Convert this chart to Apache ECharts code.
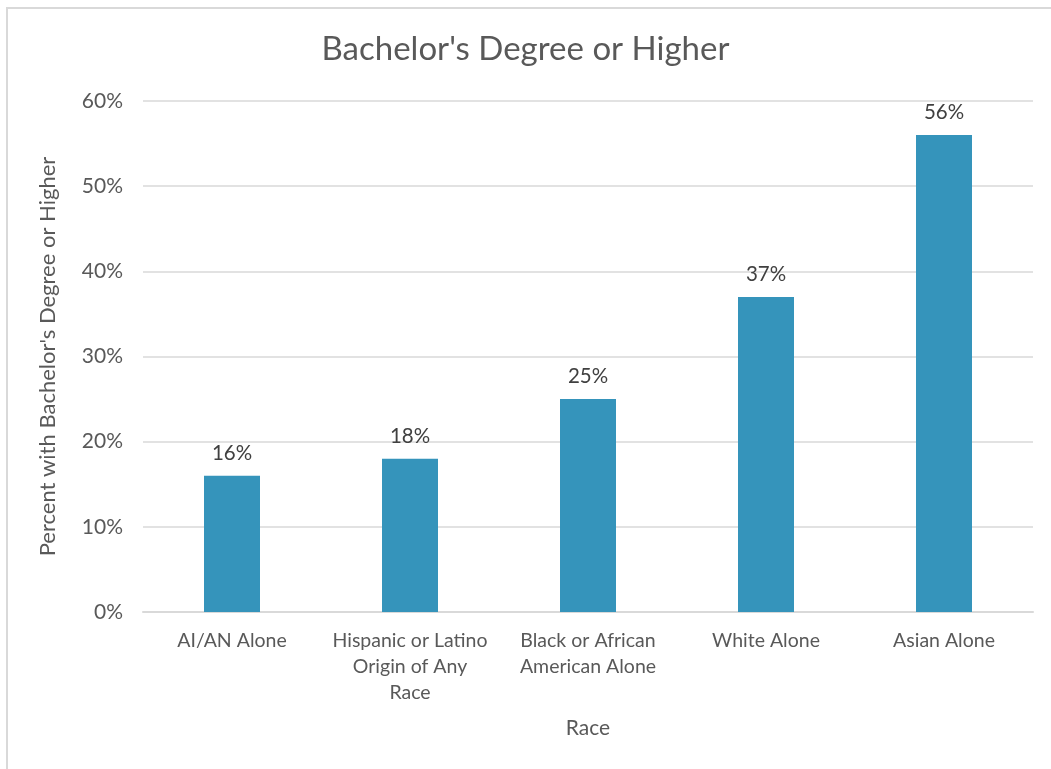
<!DOCTYPE html>
<html>
<head>
<meta charset="utf-8">
<script src="https://cdn.jsdelivr.net/npm/echarts@6/dist/echarts.min.js"></script>
<style>
  html, body { margin: 0; padding: 0; background: #fff; }
  #main { width: 1051px; height: 769px; }
</style>
</head>
<body>
<div id="main"></div>
<script>
const categories = ['AI/AN Alone', 'Hispanic or Latino\nOrigin of Any\nRace', 'Black or African\nAmerican Alone', 'White Alone', 'Asian Alone']
const values = [16, 18, 25, 37, 56]
const yTicks = [0, 10, 20, 30, 40, 50, 60]

const font = 'Lato'
const grey = '#595959'

var myChart = echarts.init(document.getElementById('main'))

myChart.setOption({
  animation: false,
  title: {
    text: "Bachelor's Degree or Higher",
    left: 'center',
    top: 28,
    textStyle: { fontFamily: font, fontSize: 33, fontWeight: 'normal', color: grey }
  },
  graphic: [{
    type: 'rect',
    shape: { x: 7, y: 8, width: 1100, height: 800 },
    style: { fill: 'none', stroke: '#d9d9d9', lineWidth: 2 }
  }],
  grid: { left: 143, right: 18, top: 101, bottom: 157 },
  xAxis: {
    type: 'category',
    data: categories,
    name: 'Race',
    nameLocation: 'middle',
    nameGap: 106,
    nameTextStyle: { fontFamily: font, fontSize: 21, color: grey },
    axisLine: { lineStyle: { color: '#d9d9d9', width: 2 } },
    axisTick: { show: false },
    axisLabel: { fontFamily: font, fontSize: 19.5, color: grey, margin: 16, lineHeight: 26, interval: 0 }
  },
  yAxis: {
    type: 'value',
    min: 0,
    max: 60,
    interval: 10,
    name: "Percent with Bachelor's Degree or Higher",
    nameLocation: 'middle',
    nameGap: 84,
    nameTextStyle: { fontFamily: font, fontSize: 22, color: grey },
    axisLine: { show: false },
    axisTick: { show: false },
    splitLine: { lineStyle: { color: '#d9d9d9', width: 1.5 } },
    axisLabel: {
      fontFamily: font, fontSize: 21, color: grey, margin: 20,
      formatter: v => yTicks.includes(v) ? v + '%' : ''
    }
  },
  series: [{
    type: 'bar',
    data: values,
    barWidth: 56,
    itemStyle: { color: '#3594BB' },
    label: {
      show: true,
      position: 'top',
      distance: 12,
      formatter: p => p.value + '%',
      fontFamily: font, fontSize: 20.5, color: '#404040'
    }
  }]
})
</script>
</body>
</html>
